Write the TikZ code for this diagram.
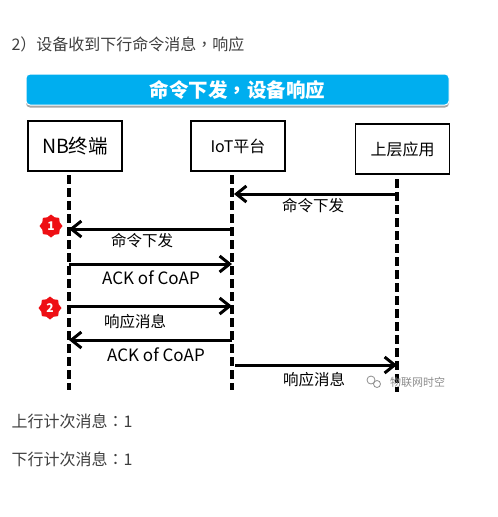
\documentclass[tikz,border=0pt]{standalone}
\usepackage{fontspec}
\setmainfont{Noto Sans CJK SC}
\newfontfamily\punctfont{Noto Sans CJK TC}
\usetikzlibrary{arrows.meta, shapes.geometric, shadows}
\definecolor{cbanner}{HTML}{00AEEF}
\definecolor{ctext}{HTML}{3E3E3E}
\definecolor{cred}{HTML}{EE0F14}
\definecolor{cmark}{HTML}{8C8C8C}
\tikzset{
  every picture/.style={line width=1.2pt},
  para/.style={anchor=west, inner sep=0pt, text=ctext, font=\fontsize{16}{18}\selectfont},
  banner/.style={fill=cbanner, draw=white, line width=1pt, rounded corners=4pt, minimum width=423pt, minimum height=31pt, text=white, font=\fontsize{19.5}{22}\bfseries\selectfont, drop shadow={shadow xshift=0pt, shadow yshift=-2.5pt, fill=black!35, opacity=1}},
  actor/.style={draw=black, fill=white, line width=#1, minimum width=94pt, minimum height=50pt, font=\fontsize{16}{18}\selectfont},
  actor/.default=1.6pt,
  lifeline/.style={draw=black, line width=3.5pt, dash pattern=on 9pt off 4pt},
  msg/.style={-{Straight Barb[length=10pt, width=16pt]}, draw=black, line width=3pt},
  msgtext/.style={inner sep=0pt, font=\fontsize{15.5}{18}\selectfont},
  acktext/.style={inner sep=0pt, font=\fontsize{17}{18}\selectfont},
  badge/.style={star, star points=8, star point ratio=1.22, fill=cred, minimum size=23pt, inner sep=0pt, text=white, font=\fontsize{12}{14}\bfseries\selectfont},
}
\begin{document}
\begin{tikzpicture}[x=1pt, y=-1pt]
  \useasboundingbox (0,0) rectangle (498,517);
  \node[para] (head) at (11,44) {2）设备收到下行命令消息{\punctfont ，}响应};
  \node[banner] (title) at (237.5,89.5) {命令下发{\punctfont\bfseries ，}设备响应};
  \node[actor=1.3pt] (nb) at (75,146) {\fontsize{19.5}{22}\selectfont NB终端};
  \node[actor] (iot) at (238,146) {IoT平台};
  \node[actor] (app) at (402.5,149) {上层应用};
  % lifelines
  \coordinate (nbtop) at (69,175);
  \coordinate (nbend) at (69,390);
  \coordinate (iottop) at (232,175);
  \coordinate (iotend) at (232,390);
  \coordinate (apptop) at (397,179);
  \coordinate (append) at (397,392);
  \foreach \s in {nb, iot, app} \draw[lifeline] (\s top) -- (\s end);
  % message ends
  \foreach \m/\y in {a/229, b/264, c/306, d/340} {
    \coordinate (nb\m) at (69,\y);
    \coordinate (iot\m) at (232,\y);
  }
  \coordinate (iotdown) at (234,194);
  \coordinate (appdown) at (397,194);
  \coordinate (iotup) at (235,365);
  \coordinate (appup) at (397,365);
  \draw[msg] (appdown) -- (iotdown);
  \draw[msg] (iota) -- (nba);
  \draw[msg] (nbb) -- (iotb);
  \draw[msg] (nbc) -- (iotc);
  \draw[msg] (iotd) -- (nbd);
  \draw[msg] (iotup) -- (appup);
  \node[msgtext] (t1) at (313,206) {命令下发};
  \node[msgtext] (t2) at (142,241) {命令下发};
  \node[acktext] (t3) at (151,278) {ACK of CoAP};
  \node[msgtext] (t4) at (135,322) {响应消息};
  \node[acktext] (t5) at (156,355) {ACK of CoAP};
  \node[msgtext] (t6) at (314,380) {响应消息};
  \node[badge] (one) at (51,226) {1};
  \node[badge] (two) at (50,308) {2};
  % watermark
  \draw[cmark, line width=0.8pt] (371,380) circle (4pt);
  \draw[cmark, line width=0.8pt] (377,384) circle (3.5pt);
  \node[inner sep=0pt, text=cmark, font=\fontsize{11}{13}\selectfont] (mark) at (417.5,382) {物联网时空};
  \node[para] (up) at (11,421) {上行计次消息{\punctfont ：}1};
  \node[para] (down) at (11,459) {下行计次消息{\punctfont ：}1};
\end{tikzpicture}
\end{document}
